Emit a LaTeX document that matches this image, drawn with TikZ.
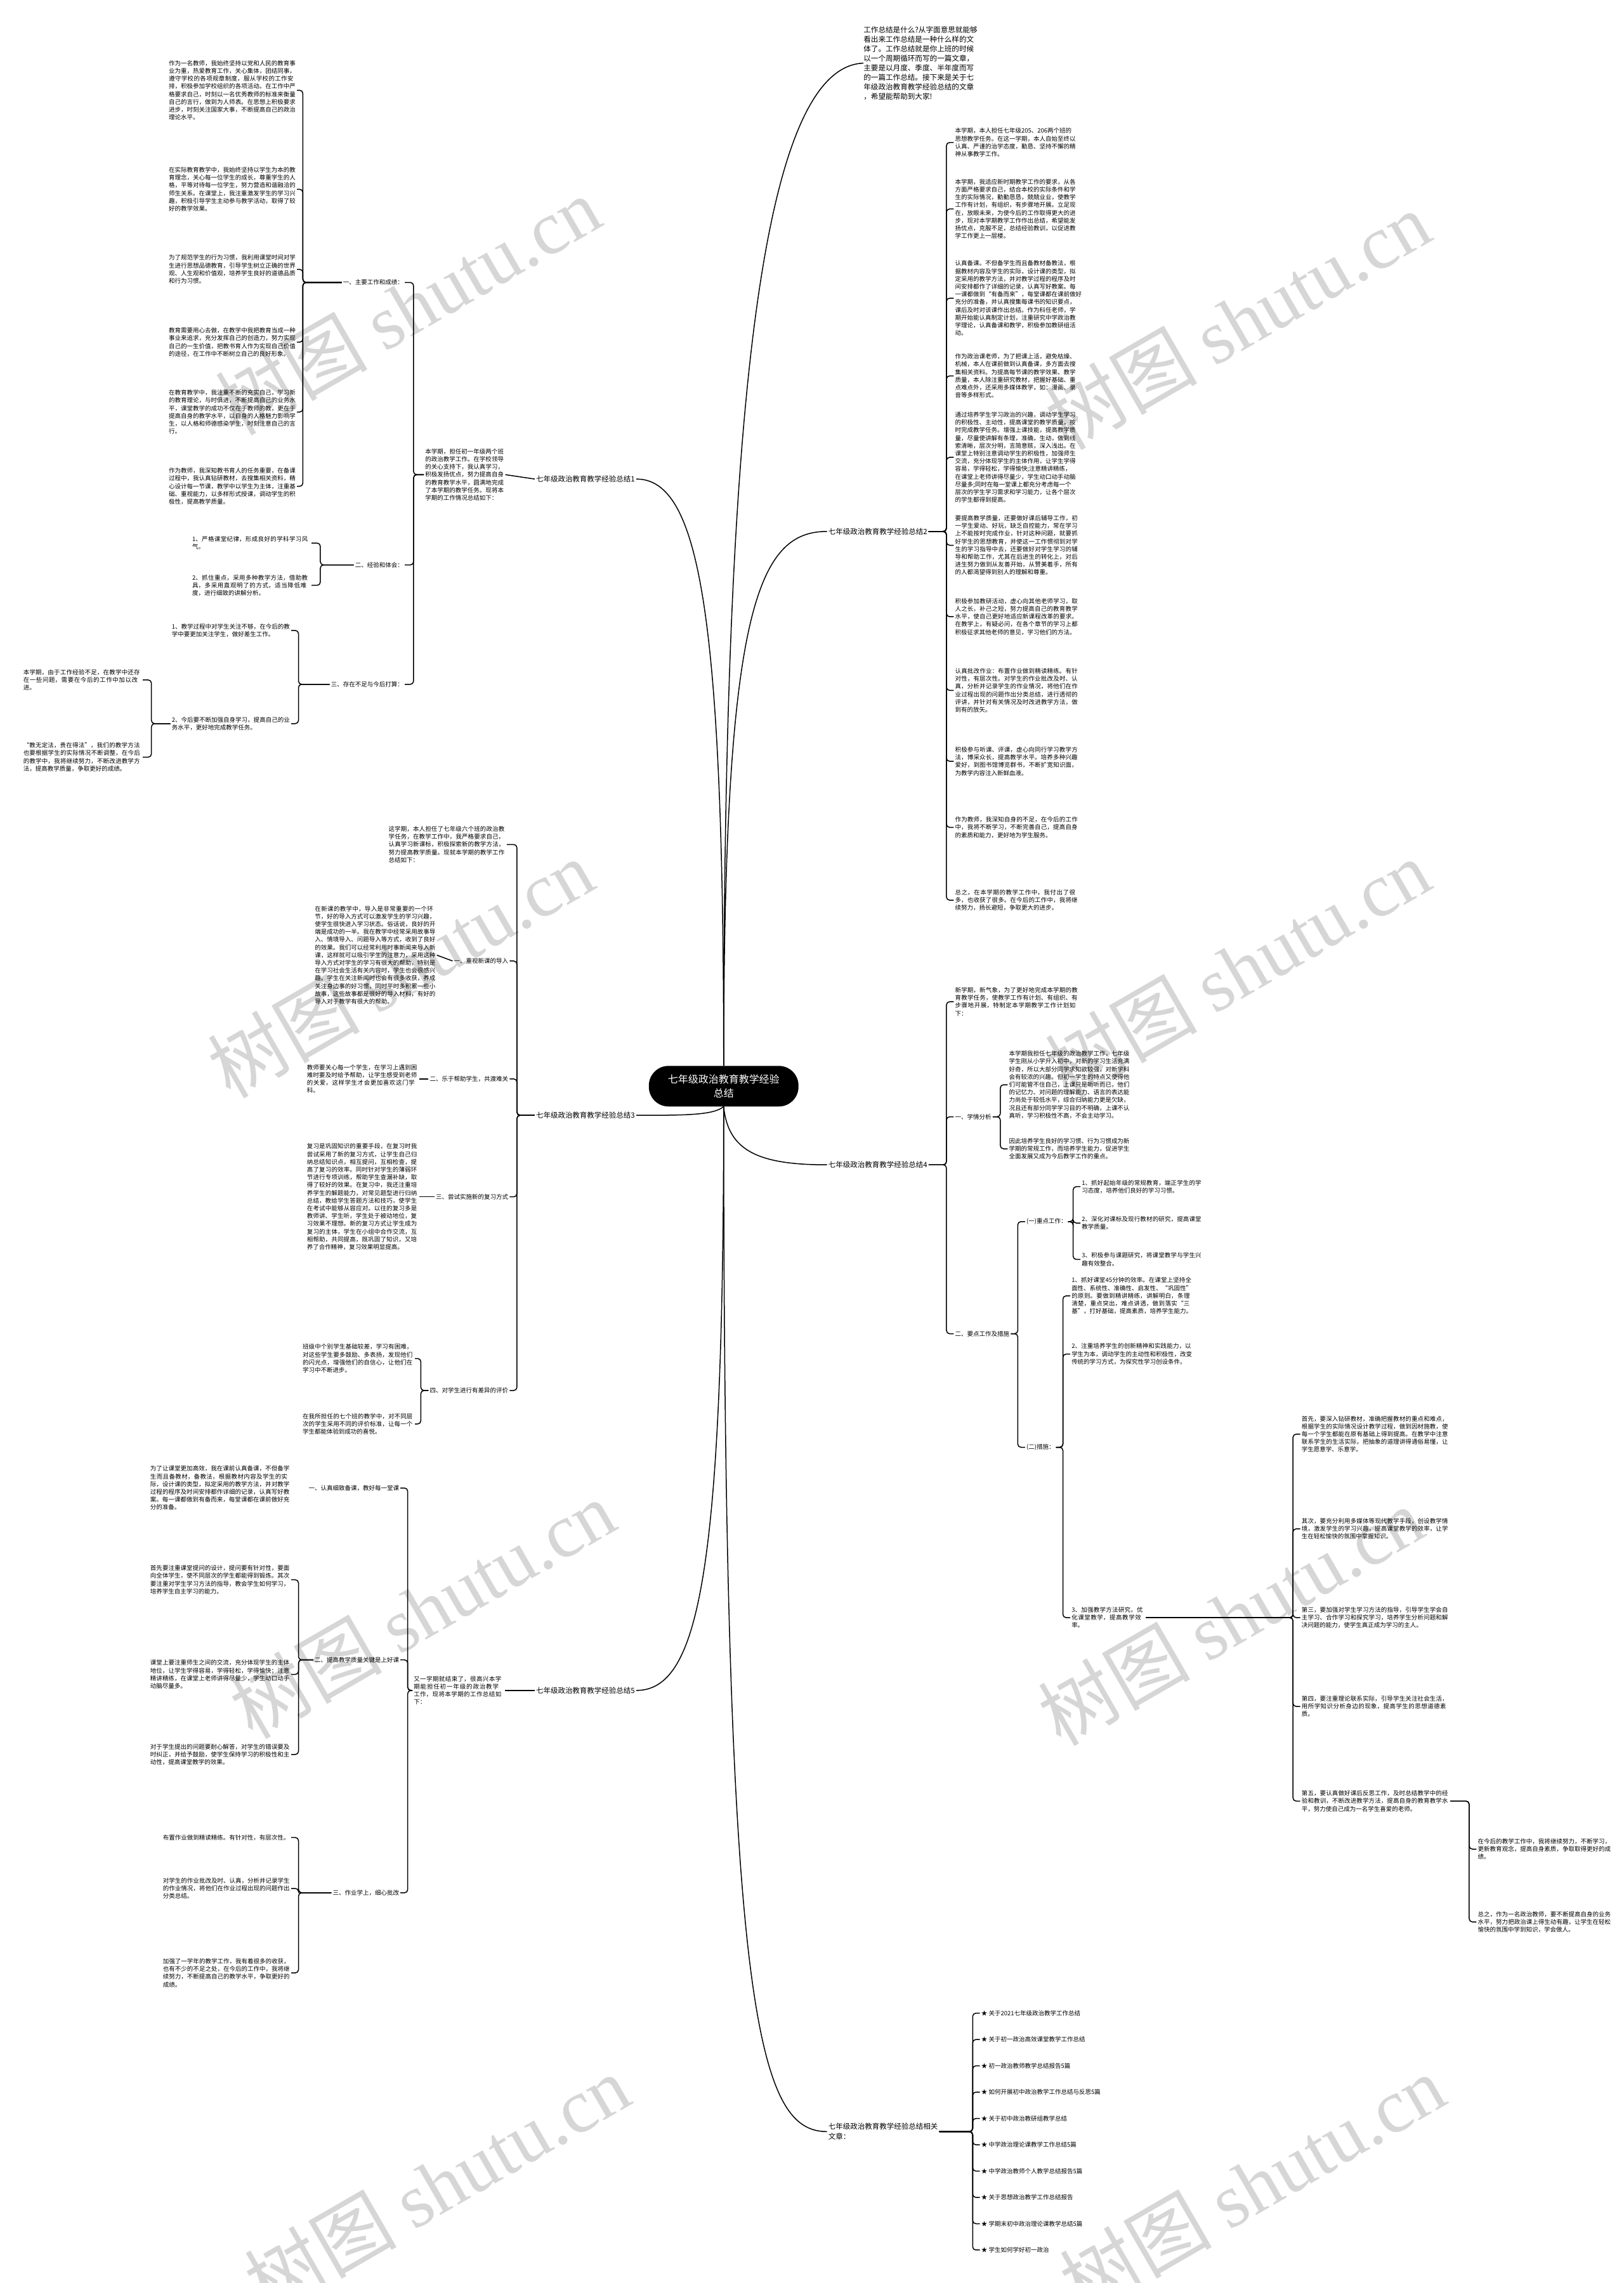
\documentclass[tikz,border=0pt]{standalone}
\usepackage{fontspec}
\setmainfont{Noto Sans CJK SC}
\newfontfamily\wmlatin{Liberation Serif}
\XeTeXlinebreaklocale "zh"
\XeTeXlinebreakskip=0pt plus 2pt
\newcommand\bodyf{\fontsize{9.5}{12.2}\selectfont}
\tikzset{
  x=2.296pt, y=-2.296pt,
  conn/.style={line width=1.5pt},
  brk/.style={line width=1.5pt, rounded corners=5pt},
  central/.style={fill=black, text=white, rounded corners=31pt, minimum width=236pt, minimum height=64pt, align=center, font=\fontsize{16}{22}\selectfont, inner sep=4pt},
  branch/.style={font=\fontsize{11.5}{16}\selectfont, inner sep=2pt, align=left},
  subl/.style={font=\bodyf, inner sep=2pt, align=left},
  leafR/.style={font=\bodyf, inner sep=2pt, align=left, anchor=west},
  leafT/.style={font=\bodyf, inner sep=2pt, align=left, anchor=north west},
  leafL/.style={font=\bodyf, inner sep=2pt, align=left, anchor=east},
  wm/.style={text=black!16, font=\fontsize{120}{120}\selectfont, rotate=30, inner sep=0pt},
}
\begin{document}
\begin{tikzpicture}
\useasboundingbox (0,0) rectangle (1115,1568);
\fill[white] (0,0) rectangle (1115,1568);
% watermarks
\foreach \p in {(280,210),(850,220),(275,665),(850,665),(290,1105),(845,1110),(300,1500),(860,1500)}
  \node[wm] at \p {树图 {\wmlatin shutu.cn}};

% central
\node[central] (c) at (497,746) {七年级政治教育教学经验\\总结};

% intro
\node[anchor=north west, align=left, inner sep=0pt, font=\fontsize{11.6}{15}\selectfont] (intro) at (593,18) {工作总结是什么?从字面意思就能够\\看出来工作总结是一种什么样的文\\体了。工作总结就是你上班的时候\\以一个周期循环而写的一篇文章，\\主要是以月度、季度、半年度而写\\的一篇工作总结。接下来是关于七\\年级政治教育教学经验总结的文章\\，希望能帮助到大家!};

% branch labels
\node[branch, anchor=east] (b1) at (437,329) {七年级政治教育教学经验总结1};
\node[branch, anchor=west] (b2) at (568,365) {七年级政治教育教学经验总结2};
\node[branch, anchor=east] (b3) at (437,766) {七年级政治教育教学经验总结3};
\node[branch, anchor=west] (b4) at (568,800) {七年级政治教育教学经验总结4};
\node[branch, anchor=east] (b5) at (437,1161) {七年级政治教育教学经验总结5};
\node[branch, anchor=west] (b6) at (568,1464) {七年级政治教育教学经验总结相关\\文章：};

\draw[conn] (c.north) .. controls (497,300) and (520,46) .. (intro.west);
\draw[conn] (c.north) .. controls (497,420) and (480,329) .. (b1.east);
\draw[conn] (c.north) .. controls (497,420) and (520,365) .. (b2.west);
\draw[conn] (c.south) .. controls (490,766) and (470,766) .. (b3.east);
\draw[conn] (c.south) .. controls (500,790) and (520,800) .. (b4.west);
\draw[conn] (c.south) .. controls (497,1080) and (480,1161) .. (b5.east);
\draw[conn] (c.south) .. controls (497,1380) and (520,1464) .. (b6.west);

% ---------------- branch 6 list
\foreach \t [count=\i] in {关于2021七年级政治教学工作总结,关于初一政治高效课堂教学工作总结,初一政治教师教学总结报告5篇,如何开展初中政治教学工作总结与反思5篇,关于初中政治教研组教学总结,中学政治理论课教学工作总结5篇,中学政治教师个人教学总结报告5篇,关于思想政治教学工作总结报告,学期末初中政治理论课教学总结5篇,学生如何学好初一政治}{
  \node[leafR] (l\i) at (673,{1464+(\i-5.5)*18.07}) {★ \t};
  \draw[brk] (b6.east) -- (668,1464) |- (l\i.west);
}

% ---------------- branch 2
\node[leafT] (r1) at (655,87) {本学期，本人担任七年级205、206两个班的\\思想教学任务。在这一学期，本人自始至终以\\认真、严谨的治学态度，勤恳、坚持不懈的精\\神从事教学工作。};
\node[leafT] (r2) at (655,122) {本学期，我适应新时期教学工作的要求，从各\\方面严格要求自己，结合本校的实际条件和学\\生的实际情况，勤勤恳恳，兢兢业业，使教学\\工作有计划，有组织，有步骤地开展。立足现\\在，放眼未来，为使今后的工作取得更大的进\\步，现对本学期教学工作作出总结，希望能发\\扬优点，克服不足，总结经验教训，以促进教\\学工作更上一层楼。};
\node[leafT] (r3) at (655,178) {认真备课。不但备学生而且备教材备教法，根\\据教材内容及学生的实际，设计课的类型，拟\\定采用的教学方法，并对教学过程的程序及时\\间安排都作了详细的记录，认真写好教案。每\\一课都做到“有备而来”，每堂课都在课前做好\\充分的准备，并认真搜集每课书的知识要点，\\课后及时对该课作出总结。作为科任老师，学\\期开始能认真制定计划，注重研究中学政治教\\学理论，认真备课和教学，积极参加教研组活\\动。};
\node[leafT] (r4) at (655,242) {作为政治课老师，为了把课上活，避免枯燥、\\机械，本人在课前做到认真备课，多方面去搜\\集相关资料。为提高每节课的教学效果、教学\\质量，本人除注重研究教材，把握好基础、重\\点难点外，还采用多媒体教学，如：漫画、录\\音等多样形式。};
\node[leafT] (r5) at (655,282) {通过培养学生学习政治的兴趣，调动学生学习\\的积极性、主动性，提高课堂的教学质量，按\\时完成教学任务。增强上课技能，提高教学质\\量，尽量使讲解有条理，准确，生动，做到线\\索清晰，层次分明，言简意赅，深入浅出。在\\课堂上特别注意调动学生的积极性，加强师生\\交流，充分体现学生的主体作用，让学生学得\\容易，学得轻松，学得愉快;注意精讲精练，\\在课堂上老师讲得尽量少，学生动口动手动脑\\尽量多;同时在每一堂课上都充分考虑每一个\\层次的学生学习需求和学习能力，让各个层次\\的学生都得到提高。};
\node[leafT, text width=195pt] (r6) at (655,353) {要提高教学质量，还要做好课后辅导工作，初一学生爱动、好玩，缺乏自控能力，常在学习上不能按时完成作业，针对这种问题，就要抓好学生的思想教育，并使这一工作惯彻到对学生的学习指导中去，还要做好对学生学习的辅导和帮助工作，尤其在后进生的转化上，对后进生努力做到从友善开始，从赞美着手，所有的人都渴望得到别人的理解和尊重。};
\node[leafT, text width=195pt] (r7) at (655,410) {积极参加教研活动，虚心向其他老师学习，取人之长，补己之短，努力提高自己的教育教学水平，使自己更好地适应新课程改革的要求。在教学上，有疑必问，在各个章节的学习上都积极征求其他老师的意见，学习他们的方法。};
\node[leafT, text width=195pt] (r8) at (655,458) {认真批改作业：布置作业做到精读精练。有针对性，有层次性。对学生的作业批改及时、认真，分析并记录学生的作业情况，将他们在作业过程出现的问题作出分类总结，进行透彻的评讲，并针对有关情况及时改进教学方法，做到有的放矢。};
\node[leafT, text width=195pt] (r9) at (655,512) {积极参与听课、评课，虚心向同行学习教学方法，博采众长，提高教学水平。培养多种兴趣爱好，到图书馆博览群书，不断扩宽知识面，为教学内容注入新鲜血液。};
\node[leafT, text width=195pt] (r10) at (655,560) {作为教师，我深知自身的不足，在今后的工作中，我将不断学习，不断完善自己，提高自身的素质和能力，更好地为学生服务。};
\node[leafT, text width=195pt] (r11) at (655,610) {总之，在本学期的教学工作中，我付出了很多，也收获了很多。在今后的工作中，我将继续努力，扬长避短，争取更大的进步。};
\foreach \n in {r1,r2,r3,r4,r5,r6,r7,r8,r9,r10,r11}
  \draw[brk] (b2.east) -- (650,365) |- (\n.west);

% ---------------- branch 4
\node[leafR, text width=195pt] (f0) at (655,688) {新学期，新气象，为了更好地完成本学期的教育教学任务，使教学工作有计划、有组织、有步骤地开展，特制定本学期教学工作计划如下：};
\node[subl, anchor=west] (f1) at (655,767) {一、学情分析};
\node[subl, anchor=west] (f2) at (655,916) {二、要点工作及措施};
\foreach \n in {f0,f1,f2} \draw[brk] (b4.east) -- (650,800) |- (\n.west);
\node[leafR, text width=190pt] (f1a) at (692,745) {本学期我担任七年级的政治教学工作，七年级学生刚从小学升入初中，对新的学习生活充满好奇，所以大部分同学求知欲较强，对新学科会有较浓的兴趣。但初一学生的特点又使得他们可能管不住自己，上课只是听听而已，他们的记忆力、对问题的理解能力、语言的表达能力尚处于较低水平，综合归纳能力更是欠缺，况且还有部分同学学习目的不明确，上课不认真听，学习积极性不高，不会主动学习。};
\node[leafR, text width=190pt] (f1b) at (692,789) {因此培养学生良好的学习惯、行为习惯成为新学期的常规工作，而培养学生能力，促进学生全面发展又成为今后教学工作的重点。};
\foreach \n in {f1a,f1b} \draw[brk] (f1.east) -- (687,767) |- (\n.west);
\node[subl, anchor=west] (g1) at (704,839) {(一)重点工作：};
\node[subl, anchor=west] (g2) at (704,994) {(二)措施：};
\foreach \n in {g1,g2} \draw[brk] (f2.east) -- (699,916) |- (\n.west);
\node[leafR, text width=190pt] (g1a) at (742,815) {1、抓好起始年级的常规教育，端正学生的学习态度，培养他们良好的学习习惯。};
\node[leafR, text width=190pt] (g1b) at (742,840) {2、深化对课标及现行教材的研究，提高课堂教学质量。};
\node[leafR, text width=190pt] (g1c) at (742,865) {3、积极参与课题研究，将课堂教学与学生兴趣有效整合。};
\foreach \n in {g1a,g1b,g1c} \draw[brk] (g1.east) -- (737,839) |- (\n.west);
\node[leafR, text width=190pt] (g2a) at (735,890) {1、抓好课堂45分钟的效率。在课堂上坚持全面性、系统性、准确性、启发性、“巩固性”的原则。要做到精讲精练，讲解明白，条理清楚，重点突出，难点讲透，做到落实“三基”，打好基础，提高素质，培养学生能力。};
\node[leafR, text width=190pt] (g2b) at (735,930) {2、注重培养学生的创新精神和实践能力，以学生为本，调动学生的主动性和积极性，改变传统的学习方式，为探究性学习创设条件。};
\node[leafR, text width=115pt] (g2c) at (735,1111) {3、加强教学方法研究，优化课堂教学，提高教学效率。};
\foreach \n in {g2a,g2b,g2c} \draw[brk] (g2.east) -- (730,994) |- (\n.west);
\node[leafR, text width=232pt] (h1) at (893,985) {首先，要深入钻研教材，准确把握教材的重点和难点，根据学生的实际情况设计教学过程，做到因材施教，使每一个学生都能在原有基础上得到提高。在教学中注意联系学生的生活实际，把抽象的道理讲得通俗易懂，让学生愿意学、乐意学。};
\node[leafR, text width=232pt] (h2) at (893,1050) {其次，要充分利用多媒体等现代教学手段，创设教学情境，激发学生的学习兴趣，提高课堂教学的效率，让学生在轻松愉快的氛围中掌握知识。};
\node[leafR, text width=232pt] (h3) at (893,1111) {第三，要加强对学生学习方法的指导，引导学生学会自主学习、合作学习和探究学习，培养学生分析问题和解决问题的能力，使学生真正成为学习的主人。};
\node[leafR, text width=232pt] (h4) at (893,1172) {第四，要注重理论联系实际，引导学生关注社会生活，用所学知识分析身边的现象，提高学生的思想道德素质。};
\node[leafR, text width=232pt] (h5) at (893,1237) {第五，要认真做好课后反思工作，及时总结教学中的经验和教训，不断改进教学方法，提高自身的教育教学水平，努力使自己成为一名学生喜爱的老师。};
\foreach \n in {h1,h2,h3,h4,h5} \draw[brk] (g2c.east) -- (888,1111) |- (\n.west);
\node[leafR, text width=210pt] (k1) at (1014,1270) {在今后的教学工作中，我将继续努力，不断学习，更新教育观念，提高自身素质，争取取得更好的成绩。};
\node[leafR, text width=210pt] (k2) at (1014,1320) {总之，作为一名政治教师，要不断提高自身的业务水平，努力把政治课上得生动有趣，让学生在轻松愉快的氛围中学到知识，学会做人。};
\foreach \n in {k1,k2} \draw[brk] (h5.east) -- (1009,1237) |- (\n.west);

% ---------------- branch 1
\node[leafL, text width=124pt] (a0) at (347,326) {本学期，担任初一年级两个班的政治教学工作。在学校领导的关心支持下，我认真学习，积极发扬优点，努力提高自身的教育教学水平，圆满地完成了本学期的教学任务。现将本学期的工作情况总结如下：};
\draw[conn] (b1.west) -- (a0.east);
\node[subl, anchor=east] (a1) at (278,194) {一、主要工作和成绩：};
\node[subl, anchor=east] (a2) at (278,388) {二、经验和体会：};
\node[subl, anchor=east] (a3) at (278,470) {三、存在不足与今后打算：};
\foreach \n in {a1,a2,a3} \draw[brk] (a0.west) -- (284,326) |- (\n.east);
\node[leafL, text width=200pt] (a1a) at (204,62) {作为一名教师，我始终坚持以党和人民的教育事业为重，热爱教育工作，关心集体，团结同事，遵守学校的各项规章制度，服从学校的工作安排，积极参加学校组织的各项活动。在工作中严格要求自己，时刻以一名优秀教师的标准来衡量自己的言行，做到为人师表。在思想上积极要求进步，时刻关注国家大事，不断提高自己的政治理论水平。};
\node[leafL, text width=200pt] (a1b) at (204,130) {在实际教育教学中，我始终坚持以学生为本的教育理念，关心每一位学生的成长，尊重学生的人格，平等对待每一位学生，努力营造和谐融洽的师生关系。在课堂上，我注重激发学生的学习兴趣，积极引导学生主动参与教学活动，取得了较好的教学效果。};
\node[leafL, text width=200pt] (a1c) at (204,185) {为了规范学生的行为习惯，我利用课堂时间对学生进行思想品德教育，引导学生树立正确的世界观、人生观和价值观，培养学生良好的道德品质和行为习惯。};
\node[leafL, text width=200pt] (a1d) at (204,235) {教育需要用心去做，在教学中我把教育当成一种事业来追求，充分发挥自己的创造力，努力实现自己的一生价值，把教书育人作为实现自己价值的途径，在工作中不断树立自己的良好形象。};
\node[leafL, text width=200pt] (a1e) at (204,283) {在教育教学中，我注重不断的充实自己，学习新的教育理论，与时俱进，不断提高自己的业务水平，课堂教学的成功不仅在于教师的教，更在于提高自身的教学水平，以自身的人格魅力影响学生，以人格和师德感染学生，时刻注意自己的言行。};
\node[leafL, text width=200pt] (a1f) at (204,334) {作为教师，我深知教书育人的任务重要，在备课过程中，我认真钻研教材，去搜集相关资料，精心设计每一节课，教学中以学生为主体，注重基础、重视能力，以多样形式授课，调动学生的积极性，提高教学质量。};
\foreach \n in {a1a,a1b,a1c,a1d,a1e,a1f} \draw[brk] (a1.west) -- (208,194) |- (\n.east);
\node[leafL, text width=186pt] (a2a) at (214,373) {1、严格课堂纪律，形成良好的学科学习风气。};
\node[leafL, text width=186pt] (a2b) at (214,402) {2、抓住重点，采用多种教学方法，借助教具，多采用直观明了的方式，适当降低难度，进行细致的讲解分析。};
\foreach \n in {a2a,a2b} \draw[brk] (a2.west) -- (220,388) |- (\n.east);
\node[leafL, text width=186pt] (a3a) at (200,433) {1、教学过程中对学生关注不够，在今后的教学中要更加关注学生，做好差生工作。};
\node[leafL, text width=186pt] (a3b) at (200,497) {2、今后要不断加强自身学习，提高自己的业务水平，更好地完成教学任务。};
\foreach \n in {a3a,a3b} \draw[brk] (a3.west) -- (205,470) |- (\n.east);
\node[leafL, text width=186pt] (a3c) at (98,467) {本学期，由于工作经验不足，在教学中还存在一些问题，需要在今后的工作中加以改进。};
\node[leafL, text width=186pt] (a3d) at (98,520) {“教无定法，贵在得法”，我们的教学方法也要根据学生的实际情况不断调整，在今后的教学中，我将继续努力，不断改进教学方法，提高教学质量，争取更好的成绩。};
\foreach \n in {a3c,a3d} \draw[brk] (a3b.west) -- (104,497) |- (\n.east);

% ---------------- branch 3
\node[leafL, text width=184pt] (c0) at (348,580) {这学期，本人担任了七年级六个班的政治教学任务，在教学工作中，我严格要求自己，认真学习新课标，积极探索新的教学方法，努力提高教学质量。现就本学期的教学工作总结如下：};
\node[subl, anchor=east] (c1) at (350,660) {一、重视新课的导入};
\node[subl, anchor=east] (c2) at (350,741) {二、乐于帮助学生，共渡难关};
\node[subl, anchor=east] (c3) at (350,822) {三、尝试实施新的复习方式};
\node[subl, anchor=east] (c4) at (350,955) {四、对学生进行有差异的评价};
\foreach \n in {c0,c1,c2,c3,c4} \draw[brk] (b3.west) -- (355,766) |- (\n.east);
\node[leafL, text width=190pt] (c1a) at (300,656) {在新课的教学中，导入是非常重要的一个环节，好的导入方式可以激发学生的学习兴趣，使学生很快进入学习状态。俗话说，良好的开端是成功的一半。我在教学中经常采用故事导入、情境导入、问题导入等方式，收到了良好的效果。我们可以经常利用时事新闻来导入新课，这样就可以吸引学生的注意力，采用这种导入方式对学生的学习有很大的帮助，特别是在学习社会生活有关内容时，学生也会很感兴趣。学生在关注新闻时也会有很多收获，养成关注身边事的好习惯，同时平时多积累一些小故事，这些故事都是很好的导入材料，有好的导入对于教学有很大的帮助。};
\node[leafL, text width=175pt] (c2a) at (288,741) {教师要关心每一个学生，在学习上遇到困难时要及时给予帮助，让学生感受到老师的关爱，这样学生才会更加喜欢这门学科。};
\node[leafL, text width=175pt] (c3a) at (288,822) {复习是巩固知识的重要手段，在复习时我尝试采用了新的复习方式，让学生自己归纳总结知识点，相互提问，互相检查，提高了复习的效率。同时针对学生的薄弱环节进行专项训练，帮助学生查漏补缺，取得了较好的效果。在复习中，我还注重培养学生的解题能力，对常见题型进行归纳总结，教给学生答题方法和技巧，使学生在考试中能够从容应对。以往的复习多是教师讲、学生听，学生处于被动地位，复习效果不理想。新的复习方式让学生成为复习的主体，学生在小组中合作交流，互相帮助，共同提高，既巩固了知识，又培养了合作精神，复习效果明显提高。};
\draw[conn] (c1.west) -- (c1a.east);
\draw[conn] (c2.west) -- (c2a.east);
\draw[conn] (c3.west) -- (c3a.east);
\node[leafL, text width=175pt] (c4a) at (285,933) {班级中个别学生基础较差，学习有困难，对这些学生要多鼓励、多表扬，发现他们的闪光点，增强他们的自信心，让他们在学习中不断进步。};
\node[leafL, text width=175pt] (c4b) at (285,978) {在我所担任的七个班的教学中，对不同层次的学生采用不同的评价标准，让每一个学生都能体验到成功的喜悦。};
\foreach \n in {c4a,c4b} \draw[brk] (c4.west) -- (289,955) |- (\n.east);

% ---------------- branch 5
\node[leafL, text width=142pt] (e0) at (347,1161) {又一学期就结束了，很高兴本学期能担任初一年级的政治教学工作，现将本学期的工作总结如下：};
\draw[conn] (b5.west) -- (e0.east);
\node[subl, anchor=east] (e1) at (275,1022) {一、认真细致备课，教好每一堂课};
\node[subl, anchor=east] (e2) at (275,1140) {二、提高教学质量关键是上好课};
\node[subl, anchor=east] (e3) at (275,1300) {三、作业学上，细心批改};
\foreach \n in {e1,e2,e3} \draw[brk] (e0.west) -- (280,1161) |- (\n.east);
\node[leafL, text width=220pt] (e1a) at (200,1022) {为了让课堂更加高效，我在课前认真备课，不但备学生而且备教材，备教法，根据教材内容及学生的实际，设计课的类型，拟定采用的教学方法，并对教学过程的程序及时间安排都作详细的记录，认真写好教案。每一课都做到有备而来，每堂课都在课前做好充分的准备。};
\node[leafL, text width=220pt] (e2a) at (200,1085) {首先要注重课堂提问的设计，提问要有针对性，要面向全体学生，使不同层次的学生都能得到锻炼。其次要注重对学生学习方法的指导，教会学生如何学习，培养学生自主学习的能力。};
\node[leafL, text width=220pt] (e2b) at (200,1150) {课堂上要注重师生之间的交流，充分体现学生的主体地位，让学生学得容易，学得轻松，学得愉快；注意精讲精练，在课堂上老师讲得尽量少，学生动口动手动脑尽量多。};
\node[leafL, text width=220pt] (e2c) at (200,1205) {对于学生提出的问题要耐心解答，对学生的错误要及时纠正，并给予鼓励，使学生保持学习的积极性和主动性，提高课堂教学的效果。};
\foreach \n in {e2a,e2b,e2c} \draw[brk] (e2.west) -- (205,1140) |- (\n.east);
\node[leafL, text width=200pt] (e3a) at (200,1262) {布置作业做到精读精练。有针对性，有层次性。};
\node[leafL, text width=200pt] (e3b) at (200,1297) {对学生的作业批改及时、认真，分析并记录学生的作业情况，将他们在作业过程出现的问题作出分类总结。};
\node[leafL, text width=200pt] (e3c) at (200,1355) {加强了一学年的教学工作，我有着很多的收获，也有不少的不足之处，在今后的工作中，我将继续努力，不断提高自己的教学水平，争取更好的成绩。};
\foreach \n in {e3a,e3b,e3c} \draw[brk] (e3.west) -- (205,1300) |- (\n.east);
\end{tikzpicture}
\end{document}
